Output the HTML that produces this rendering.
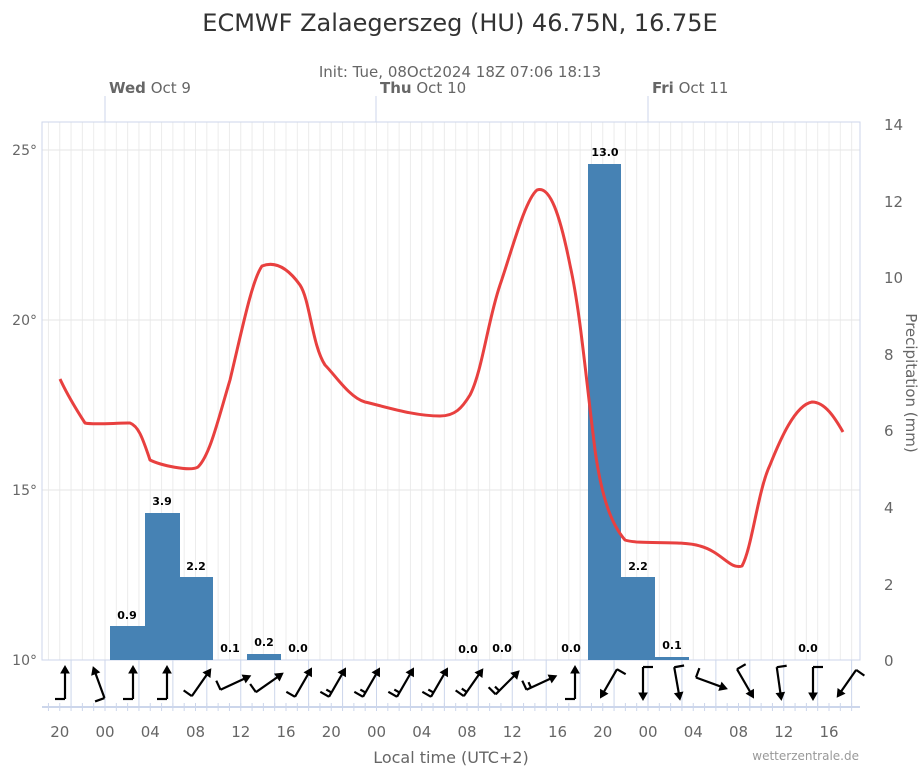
<!DOCTYPE html>
<html><head><meta charset="utf-8"><style>
body{margin:0;background:#fff;}
svg{display:block;font-family:"DejaVu Sans","Liberation Sans",sans-serif;}
</style></head><body>
<svg width="921" height="768" viewBox="0 0 921 768" xmlns="http://www.w3.org/2000/svg">
<text x="460" y="31" font-size="24" fill="#333" text-anchor="middle">ECMWF Zalaegerszeg (HU) 46.75N, 16.75E</text>
<text x="460" y="77" font-size="15" fill="#666" text-anchor="middle">Init: Tue, 08Oct2024 18Z 07:06 18:13</text>
<g id="grid" stroke="#ececec" stroke-width="1"></g>
<g stroke="#e6e6e6" stroke-width="1">
<line x1="42" y1="150" x2="860" y2="150"/><line x1="42" y1="320" x2="860" y2="320"/><line x1="42" y1="490" x2="860" y2="490"/>
</g>
<g id="vdark" stroke="#ccd6eb" stroke-width="1"></g>
<rect x="42" y="122" width="818" height="538" fill="none" stroke="#ccd6eb"/>
<g stroke="#ccd6eb"><line x1="105" y1="96" x2="105" y2="122"/><line x1="376" y1="96" x2="376" y2="122"/><line x1="648" y1="96" x2="648" y2="122"/></g>
<g font-size="15" fill="#666"><text x="109" y="93"><tspan font-weight="bold">Wed</tspan> Oct 9</text><text x="380" y="93"><tspan font-weight="bold">Thu</tspan> Oct 10</text><text x="652" y="93"><tspan font-weight="bold">Fri</tspan> Oct 11</text></g>
<g font-size="14" fill="#666" text-anchor="end"><text x="37" y="155">25°</text><text x="37" y="325">20°</text><text x="37" y="495">15°</text><text x="37" y="665">10°</text></g>
<g font-size="15" fill="#666"><text x="884" y="130">14</text><text x="884" y="207">12</text><text x="884" y="283">10</text><text x="884" y="360">8</text><text x="884" y="436">6</text><text x="884" y="513">4</text><text x="884" y="590">2</text><text x="884" y="666">0</text></g>
<text transform="translate(906,383) rotate(90)" font-size="15" fill="#666" text-anchor="middle">Precipitation (mm)</text>
<g fill="#4682b4">
<rect x="110" y="626" width="35" height="34"/><rect x="145" y="513" width="35" height="147"/><rect x="180" y="577" width="33" height="83"/>
<rect x="247" y="654" width="34" height="6"/><rect x="588" y="164" width="33" height="496"/><rect x="621" y="577" width="34" height="83"/><rect x="655" y="657" width="34" height="3"/>
</g>
<g font-size="11" font-weight="bold" fill="#000" text-anchor="middle">
<text x="127" y="619">0.9</text><text x="162" y="505">3.9</text><text x="196" y="570">2.2</text><text x="230" y="652">0.1</text><text x="264" y="646">0.2</text><text x="298" y="652">0.0</text><text x="468" y="653">0.0</text><text x="502" y="652">0.0</text><text x="571" y="652">0.0</text><text x="605" y="156">13.0</text><text x="638" y="570">2.2</text><text x="672" y="649">0.1</text><text x="808" y="652">0.0</text>
</g>
<path fill="none" stroke="#e8403f" stroke-width="3" stroke-linejoin="round" d="M60,379 C66,392 74,406 85,423 C92,425 115,423 130,423 C138,426 142,436 150,460 C160,465 190,472 198,467 C210,455 218,420 230,380 C242,330 252,280 262,266 C272,262 285,264 300,285 C310,300 312,345 325,365 C335,375 350,398 365,402 C390,408 415,416 440,416 C455,416 462,408 470,395 C482,372 488,320 500,285 C512,250 525,200 537,190 C550,185 560,215 570,265 C580,310 585,370 595,450 C602,500 612,525 625,540 C640,545 680,540 700,546 C722,552 730,570 742,566 C752,548 758,490 770,465 C780,440 795,405 812,402 C825,402 835,418 843,432"/>
<line x1="42" y1="707" x2="860" y2="707" stroke="#ccd6eb" stroke-width="2"/>
<g id="ticks" stroke="#ccd6eb"></g>
<g id="barbs" stroke="#000" stroke-width="2.2" fill="none"></g>
<g font-size="15" fill="#666" text-anchor="middle" id="xl"></g>
<text x="451" y="763" font-size="16" fill="#666" text-anchor="middle">Local time (UTC+2)</text>
<text x="859" y="760" font-size="12" fill="#999" text-anchor="end">wetterzentrale.de</text>
<script>
var ns="http://www.w3.org/2000/svg";
function el(p,t,a){var e=document.createElementNS(ns,t);for(var k in a)e.setAttribute(k,a[k]);p.appendChild(e);return e;}
var g=document.getElementById('grid'),vd=document.getElementById('vdark'),tk=document.getElementById('ticks');
var px=271.5/24;
for(var i=-5;i<=66;i++){var x=105+i*px;if(x<43||x>859)continue;el(g,'line',{x1:x,y1:122,x2:x,y2:660});
 el(tk,'line',{x1:x,y1:703,x2:x,y2:711});
 if(((i%3)+3)%3==0)el(vd,'line',{x1:x,y1:660,x2:x,y2:707});}
var xl=document.getElementById('xl'),labs=["20","00","04","08","12","16"];
for(var j=0;j<18;j++){var t=el(xl,'text',{x:59.75+j*45.25,y:737});t.textContent=labs[j%6];}
var dirs=[0,-20,0,0,35,65,55,30,30,30,30,30,35,45,65,0,210,180,170,110,150,172,180,215];
var dbl=[0,0,0,0,0,0,0,0,1,1,1,1,1,1,1,0,0,0,0,0,0,0,0,0];
var b=document.getElementById('barbs');
for(var k=0;k<24;k++){var cx=65+34*k,cy=683;
 var gg=el(b,'g',{transform:'translate('+cx+','+cy+') rotate('+dirs[k]+')'});
 el(gg,'line',{x1:0,y1:16,x2:0,y2:-14});
 el(gg,'path',{d:'M-4,-10 L0,-17 L4,-10 Z',fill:'#000','stroke-width':1});
 el(gg,'line',{x1:0,y1:16,x2:-10,y2:16});
 if(dbl[k])el(gg,'line',{x1:0,y1:11,x2:-6,y2:11});}
</script>
</svg>
</body></html>
